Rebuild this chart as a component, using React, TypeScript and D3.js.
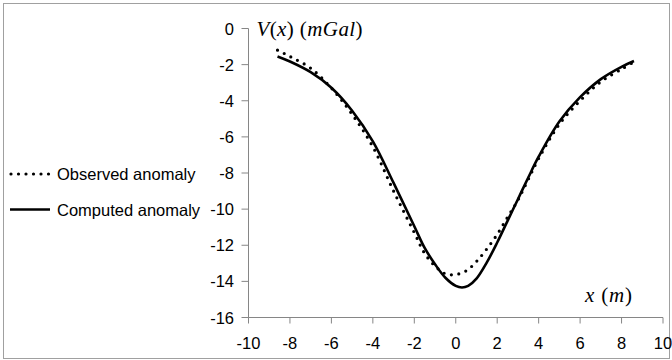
import React from "react";
import * as d3 from "d3";

const obsX = [-8.6, -8, -7, -6, -5, -4, -3, -2, -1.5, -1, -0.5, 0, 0.5, 1, 1.5, 2, 2.5, 3, 3.5, 4, 5, 6, 7, 8, 8.6];
const obsV = [-1.2, -1.55, -2.2, -3.3, -4.75, -6.55, -9.0, -11.3, -12.45, -13.15, -13.58, -13.62, -13.42, -12.9, -12.2, -11.4, -10.45, -9.5, -8.35, -7.2, -5.3, -4.0, -2.95, -2.25, -1.85];

const compX = [-8.6, -8, -7, -6, -5, -4, -3, -2, -1.5, -1, -0.5, 0, 0.3, 0.6, 1, 1.5, 2, 2.5, 3, 3.5, 4, 5, 6, 7, 8, 8.6];
const compV = [-1.55, -1.83, -2.42, -3.28, -4.55, -6.25, -8.55, -10.95, -12.15, -13.05, -13.8, -14.25, -14.34, -14.25, -13.85, -12.95, -11.85, -10.65, -9.45, -8.25, -7.1, -5.15, -3.8, -2.8, -2.12, -1.8];

const xTicks = [-10, -8, -6, -4, -2, 0, 2, 4, 6, 8, 10];
const yTicks = [0, -2, -4, -6, -8, -10, -12, -14, -16];
const legendLabels = ["Observed anomaly", "Computed anomaly"];

const W = 672;
const H = 360;
const axisColor = "#868686";
const labelFont = "'Liberation Sans', Arial, sans-serif";
const titleFont = "'Liberation Serif', 'Times New Roman', serif";

export default function App() {
  const x = d3.scaleLinear().domain([-10, 10]).range([248.5, 663]);
  const y = d3.scaleLinear().domain([0, -16]).range([28.5, 317.5]);

  const line = d3
    .line<[number, number]>()
    .x((d) => x(d[0]))
    .y((d) => y(d[1]))
    .curve(d3.curveCatmullRom.alpha(0.5));

  const obsPts = obsX.map((v, i) => [v, obsV[i]] as [number, number]);
  const compPts = compX.map((v, i) => [v, compV[i]] as [number, number]);

  const x0 = x(-10);
  const yBase = y(-16);

  return (
    <svg
      width={W}
      height={H}
      style={{ position: "absolute", left: 0, top: 0, background: "#fff" }}
    >
      <rect x={0} y={0} width={W} height={H} fill="#fff" />
      <rect x={3.5} y={3.5} width={666} height={355} fill="none" stroke="#a0a0a0" strokeWidth={1} />

      {/* y axis */}
      <line x1={x0} x2={x0} y1={y(0)} y2={yBase} stroke={axisColor} strokeWidth={1} />
      {yTicks.map((t) => (
        <g key={"y" + t}>
          <line x1={x0 - 7} x2={x0} y1={y(t)} y2={y(t)} stroke={axisColor} strokeWidth={1} />
          <text
            x={234}
            y={y(t)}
            textAnchor="end"
            dominantBaseline="central"
            fontFamily={labelFont}
            fontSize={16.5}
            fill="#000"
          >
            {t}
          </text>
        </g>
      ))}

      {/* x axis */}
      <line x1={x0} x2={x(10)} y1={yBase} y2={yBase} stroke={axisColor} strokeWidth={1} />
      {xTicks.map((t) => (
        <g key={"x" + t}>
          <line x1={x(t)} x2={x(t)} y1={yBase} y2={yBase + 6} stroke={axisColor} strokeWidth={1} />
          <text
            x={x(t)}
            y={343}
            textAnchor="middle"
            dominantBaseline="central"
            fontFamily={labelFont}
            fontSize={16.5}
            fill="#000"
          >
            {t}
          </text>
        </g>
      ))}

      {/* series */}
      <path d={line(compPts) || ""} fill="none" stroke="#000" strokeWidth={2.6} />
      <path
        d={line(obsPts) || ""}
        fill="none"
        stroke="#000"
        strokeWidth={3.2}
        strokeDasharray="0 7.5"
        strokeLinecap="round"
      />

      {/* axis titles */}
      <text
        x={256.5}
        y={36}
        fontFamily={titleFont}
        fontSize={21}
        fill="#000"
        textLength={106}
        lengthAdjust="spacing"
      >
        <tspan fontStyle="italic">V</tspan>(<tspan fontStyle="italic">x</tspan>) (<tspan fontStyle="italic">mGal</tspan>)
      </text>
      <text
        x={585}
        y={302}
        fontFamily={titleFont}
        fontSize={21}
        fill="#000"
        textLength={47}
        lengthAdjust="spacing"
      >
        <tspan fontStyle="italic">x</tspan> (<tspan fontStyle="italic">m</tspan>)
      </text>

      {/* legend */}
      <line x1={11} x2={50} y1={174} y2={174} stroke="#000" strokeWidth={3.2} strokeDasharray="0 7.5" strokeLinecap="round" />
      <text x={57} y={174} dominantBaseline="central" fontFamily={labelFont} fontSize={16.5} fill="#000">
        {legendLabels[0]}
      </text>
      <line x1={10} x2={50} y1={209.5} y2={209.5} stroke="#000" strokeWidth={2.6} />
      <text x={57} y={209.5} dominantBaseline="central" fontFamily={labelFont} fontSize={16.5} fill="#000">
        {legendLabels[1]}
      </text>
    </svg>
  );
}
